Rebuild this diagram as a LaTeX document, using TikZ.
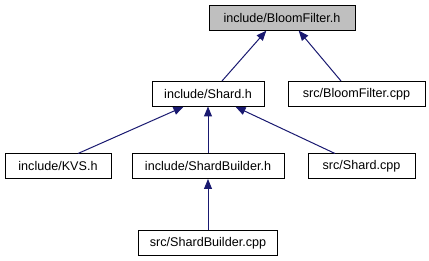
\documentclass[tikz,border=0pt]{standalone}
\usepackage{fontspec}
\setmainfont{Liberation Sans}
\usetikzlibrary{arrows.meta}
\definecolor{edgeblue}{HTML}{191970}
\definecolor{hilite}{HTML}{BFBFBF}
\tikzset{
  filebox/.style={draw=black, line width=1pt, fill=white, inner sep=0pt,
    minimum height=25pt, font=\fontsize{12.6}{14}\selectfont},
  current/.style={filebox, fill=hilite},
  dep/.style={draw=edgeblue, line width=1pt,
    -{Triangle[length=10pt,width=8pt]}, shorten >=-0.5pt}
}
\begin{document}
\begin{tikzpicture}[x=1pt,y=-1pt]
  \useasboundingbox (0,0) rectangle (429,261);
  % header files and sources
  \node[current, minimum width=146pt] (bf) at (282,18) {include/BloomFilter.h};
  \node[filebox, minimum width=112pt] (shard) at (208,94) {include/Shard.h};
  \node[filebox, minimum width=137pt] (bfcpp) at (356.5,94) {src/BloomFilter.cpp};
  \node[filebox, minimum width=106pt] (kvs) at (58,166.5) {include/KVS.h};
  \node[filebox, minimum width=152pt] (sbh) at (208,166.5) {include/ShardBuilder.h};
  \node[filebox, minimum width=107pt] (scpp) at (361.5,166.5) {src/Shard.cpp};
  \node[filebox, minimum width=139pt] (sbcpp) at (208,243.5) {src/ShardBuilder.cpp};
  % include dependencies
  \draw[dep] ([xshift=14pt]shard.north) -- ([xshift=-16pt]bf.south);
  \draw[dep] ([xshift=-15.5pt]bfcpp.north) -- ([xshift=17pt]bf.south);
  \draw[dep] ([xshift=20pt]kvs.north) -- ([xshift=-25pt]shard.south);
  \draw[dep] (sbh.north) -- (shard.south);
  \draw[dep] ([xshift=-26.5pt]scpp.north) -- ([xshift=28pt]shard.south);
  \draw[dep] (sbcpp.north) -- (sbh.south);
\end{tikzpicture}
\end{document}
